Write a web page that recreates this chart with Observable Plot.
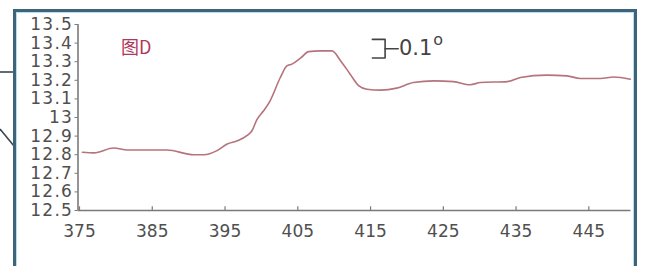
<!DOCTYPE html>
<html>
<head>
<meta charset="utf-8">
<script src="https://cdn.jsdelivr.net/npm/d3@7"></script>
<script src="https://cdn.jsdelivr.net/npm/@observablehq/plot@0.6"></script>
<style>
  html, body { margin: 0; padding: 0; background: #ffffff; }
  #wrap { position: relative; width: 646px; height: 266px; overflow: hidden; background: #ffffff; }
  #wrap svg.plot { position: absolute; left: 0; top: 0; }
  #wrap svg.plot g[aria-label="y-axis tick label"] text { letter-spacing: 1.2px; }
  #frame { position: absolute; left: 13px; top: 9px; width: 618px; height: 300px;
           border: 3px solid #3e6479; box-shadow: inset 0 0 0 1px #b9dcef; pointer-events: none; }
  #deco { position: absolute; left: 0; top: 0; pointer-events: none; }
</style>
</head>
<body>
<div id="wrap">
  <svg id="deco" width="646" height="266">
    <line x1="0" y1="72" x2="14" y2="72" stroke="#3c4650" stroke-width="1.6"/>
    <line x1="0" y1="129" x2="14" y2="146" stroke="#3c4650" stroke-width="1.6"/>
  </svg>
  <div id="frame"></div>
</div>
<script>
// ---- data ----
const wavelength = [375.4, 377, 379.7, 381.6, 387, 390.7, 392.1, 393.9, 395.3, 396.7, 398, 398.7, 399.4, 400.3, 401.2, 402.6, 403.5, 404.2, 405.4, 406.5, 408.1, 409.7, 410.9, 412.2, 413.4, 414.5, 416.4, 418.6, 420.9, 423.7, 426.4, 428.7, 430.1, 433.8, 435.6, 439.2, 442, 443.8, 446.6, 448.4, 450.7];
const signal = [12.813, 12.81, 12.836, 12.825, 12.825, 12.80, 12.80, 12.822, 12.858, 12.875, 12.902, 12.929, 12.99, 13.036, 13.09, 13.215, 13.277, 13.287, 13.32, 13.354, 13.358, 13.358, 13.304, 13.233, 13.17, 13.152, 13.147, 13.158, 13.188, 13.197, 13.193, 13.176, 13.188, 13.193, 13.215, 13.228, 13.224, 13.21, 13.21, 13.218, 13.206];
const xTicks = [375, 385, 395, 405, 415, 425, 435, 445];
const yTicks = [12.5, 12.6, 12.7, 12.8, 12.9, 13, 13.1, 13.2, 13.3, 13.4, 13.5];
const panelLabel = "图D";
const scaleLabel = "0.1";
const scaleUnit = "o";
const scaleBarLength = 0.1;

const rows = wavelength.map((w, i) => ({w, v: signal[i]}));

// annotation anchor (data coordinates)
const barX0 = 415.25, barX1 = 417.0, barXDash = 418.8, barTop = 13.42;
const bracket = [
  {x: barX0, y: barTop}, {x: barX1, y: barTop},
  {x: barX1, y: barTop - scaleBarLength}, {x: barX0, y: barTop - scaleBarLength}
];
const dash = [{x: barX1, y: barTop - scaleBarLength / 2}, {x: barXDash, y: barTop - scaleBarLength / 2}];

const axisColor = "#7a7a7a";
const textColor = "#4f4f4f";

const chart = Plot.plot({
  width: 646,
  height: 266,
  marginLeft: 79,
  marginRight: 14,
  marginTop: 24,
  marginBottom: 56,
  style: {background: "transparent", fontFamily: "DejaVu Sans"},
  x: {domain: [375, 451]},
  y: {domain: [12.5, 13.5]},
  marks: [
    Plot.ruleX(xTicks, {x: d => d, y1: 12.5, y2: 12.52, stroke: axisColor, strokeWidth: 1.2}),
    Plot.ruleX([375], {y1: 12.5, y2: 13.5, stroke: axisColor, strokeWidth: 1.6, dx: -1.5}),
    Plot.ruleY([12.5], {x1: 375, x2: 451, stroke: axisColor, strokeWidth: 1.6, dx: -1.5}),
    Plot.axisY({ticks: yTicks, tickSize: 3, tickPadding: 2, dx: -1.5, tickFormat: d => d3.format("~")(d),
      stroke: axisColor, fill: textColor, fontSize: 17, label: null}),
    Plot.axisX({ticks: xTicks, tickSize: 0, tickPadding: 14, fill: textColor, fontSize: 17, label: null}),
    Plot.line(rows, {x: "w", y: "v", stroke: "#b5737c", strokeWidth: 1.6, curve: "monotone-x"}),
    Plot.text([panelLabel], {x: 380.7, y: 13.374, text: d => d, textAnchor: "start", fill: "#b0385c",
      fontSize: 18, fontFamily: "Noto Sans CJK SC"}),
    Plot.line(bracket, {x: "x", y: "y", stroke: "#444", strokeWidth: 1.6}),
    Plot.line(dash, {x: "x", y: "y", stroke: "#444", strokeWidth: 1.6}),
    Plot.text([scaleLabel], {x: 418.9, y: barTop - scaleBarLength / 2, text: d => d, textAnchor: "start",
      fill: "#444", fontSize: 21}),
    Plot.text([scaleUnit], {x: 423.6, y: 13.415, text: d => d, textAnchor: "start", fill: "#444", fontSize: 16})
  ]
});
chart.classList.add("plot");
document.getElementById("wrap").insertBefore(chart, document.getElementById("deco"));
</script>
</body>
</html>
